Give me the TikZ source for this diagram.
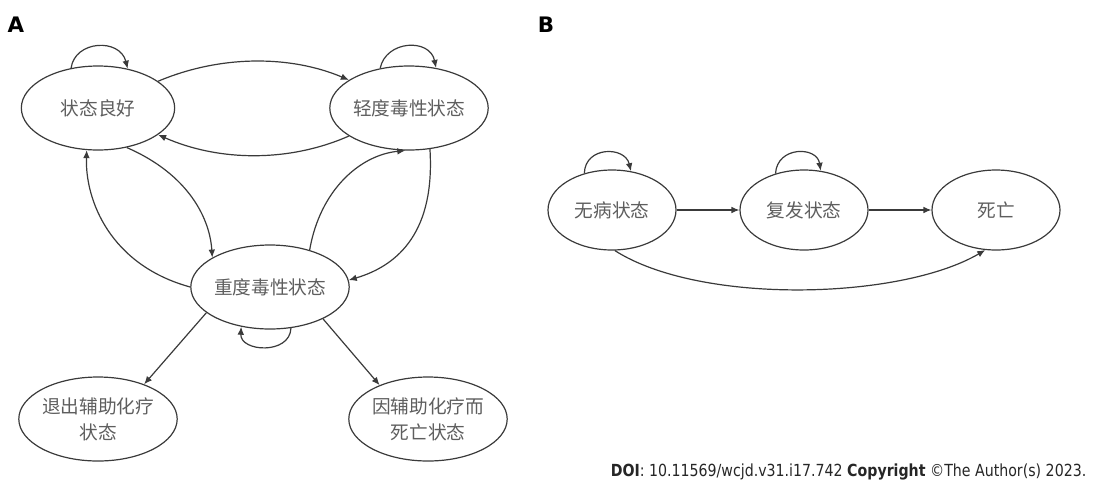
\documentclass[tikz,border=0pt]{standalone}
\usepackage{fontspec}
\setmainfont{DejaVu Sans}
\newfontfamily\cjk{Noto Sans CJK SC}
\newfontfamily\doifont[FakeStretch=0.85]{DejaVu Sans}
\usetikzlibrary{shapes.geometric,arrows.meta}
\definecolor{edgegray}{HTML}{3A3A3A}
\definecolor{labelgray}{HTML}{5E5E5E}
\begin{document}
\begin{tikzpicture}[x=0.75pt, y=-0.75pt,
  state/.style={ellipse, draw=edgegray, line width=0.9pt, minimum width=115pt, minimum height=63pt,
    inner sep=0pt, align=center, text=labelgray, font=\cjk\fontsize{14}{19.5}\selectfont},
  stateB/.style={state, minimum width=96pt, minimum height=60pt},
  trans/.style={draw=edgegray, line width=0.9pt, -{Latex[length=6pt,width=5pt]}},
  panel/.style={font=\bfseries\fontsize{16}{16}\selectfont}]
  \useasboundingbox (0,0) rectangle (1098,490);

  % Panel labels
  \node[panel] (labA) at (16,25) {A};
  \node[panel] (labB) at (546,25) {B};

  % States, panel A
  \node[state] (good) at (98,108) {状态良好};
  \node[state] (mild) at (409,108) {轻度毒性状态};
  \node[state] (severe) at (270,287) {重度毒性状态};
  \node[state] (quit) at (98,419) {退出辅助化疗\\状态};
  \node[state] (death) at (428,419) {因辅助化疗而\\死亡状态};

  % Transitions, panel A
  \draw[trans] (good.124) .. controls (75,40) and (120,38) .. (good.53);
  \draw[trans] (mild.126) .. controls (386,40) and (430,38) .. (mild.56);
  \draw[trans] (good.24) .. controls (220,55) and (290,55) .. (mild.155);
  \draw[trans] (mild.205) .. controls (290,162) and (220,162) .. (good.-24);
  \draw[trans] (good.-54) .. controls (190,175) and (210,220) .. (severe.153);
  \draw[trans] (severe.180) .. controls (110,265) and (85,200) .. (good.-105);
  \draw[trans] (severe.43) .. controls (320,190) and (360,155) .. (mild.265);
  \draw[trans] (mild.-63) .. controls (435,230) and (400,265) .. (severe.5);
  \draw[trans] (severe.-63) .. controls (290,355) and (240,352) .. (severe.234);
  \draw[trans] (severe.202) -- (quit.37);
  \draw[trans] (severe.-31) -- (death.145);

  % States, panel B
  \node[stateB] (free) at (612,210) {无病状态};
  \node[stateB] (relapse) at (804,210) {复发状态};
  \node[stateB] (dead) at (996,210) {死亡};

  % Transitions, panel B
  \draw[trans] (free.127) .. controls (585,146) and (625,146) .. (free.64);
  \draw[trans] (relapse.128) .. controls (777,146) and (817,146) .. (relapse.67);
  \draw[trans] (free.east) -- (relapse.west);
  \draw[trans] (relapse.east) -- (dead.west);
  \draw[trans] (free.-86) .. controls (700,305) and (900,300) .. (dead.-105);

  % Footer
  \node[anchor=east, font=\doifont\fontsize{12.5}{12.5}\selectfont, text=black!85] (doi) at (1091,472)
    {\textbf{DOI}: 10.11569/wcjd.v31.i17.742 \textbf{Copyright} \textcopyright The Author(s) 2023.};
\end{tikzpicture}
\end{document}
